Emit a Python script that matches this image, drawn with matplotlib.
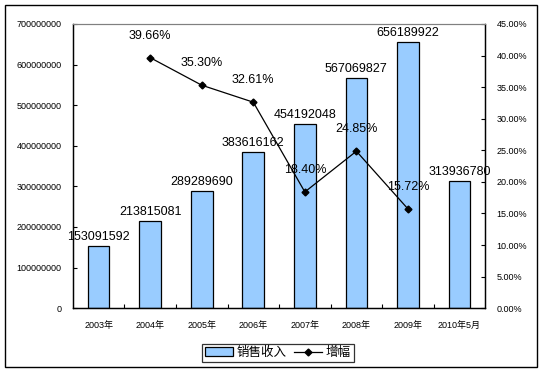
import matplotlib
matplotlib.use("Agg")
import matplotlib.pyplot as plt
from matplotlib.patches import Rectangle
from matplotlib.lines import Line2D
from matplotlib.ticker import FuncFormatter

plt.rcParams['font.family'] = ['Liberation Sans', 'Noto Sans CJK SC']

# 数据
years = ['2003年', '2004年', '2005年', '2006年', '2007年', '2008年', '2009年', '2010年5月']
sales = [153091592, 213815081, 289289690, 383616162, 454192048, 567069827, 656189922, 313936780]
growth_idx = [1, 2, 3, 4, 5, 6]
growth = [39.66, 35.30, 32.61, 18.40, 24.85, 15.72]

fig = plt.figure(figsize=(5.44, 3.74), dpi=100)
ax = fig.add_axes([0.134, 0.176, 0.758, 0.76])

x = list(range(len(years)))
ax.bar(x, sales, width=0.42, color='#99CCFF', edgecolor='black', linewidth=0.9, zorder=2)
ax.set_xlim(-0.5, len(years) - 0.5)
ax.set_ylim(0, 700000000)
ax.set_yticks(range(0, 700000001, 100000000))
ax.yaxis.set_major_formatter(FuncFormatter(lambda v, p: '%d' % v))
ax.set_xticks([i + 0.5 for i in x[:-1]], minor=False)
ax.set_xticklabels([])
ax.set_xticks(x, minor=True)
ax.set_xticklabels(years, minor=True)
ax.tick_params(axis='x', which='minor', length=0, pad=9, labelsize=6.5)
ax.tick_params(axis='x', which='major', direction='in', length=3)
ax.tick_params(axis='y', direction='in', length=3, labelsize=6.5, pad=8)

for i, v in zip(x, sales):
    ax.annotate(str(v), (i, v), xytext=(0, 3), textcoords='offset pixels',
                ha='center', va='bottom', fontsize=9, zorder=5)

ax2 = ax.twinx()
ax2.plot(growth_idx, growth, color='black', linewidth=0.9, marker='D', markersize=3.5, zorder=4)
ax2.set_ylim(0, 45)
ax2.set_yticks(range(0, 46, 5))
ax2.yaxis.set_major_formatter(FuncFormatter(lambda v, p: '%.2f%%' % v))
ax2.tick_params(axis='y', direction='in', length=3, labelsize=6.5, pad=8)
for i, g in zip(growth_idx, growth):
    ax2.annotate('%.2f%%' % g, (i, g), xytext=(0, 22), textcoords='offset pixels',
                 ha='center', va='center', fontsize=9)

for a in (ax, ax2):
    a.spines['top'].set_color('#808080')
    a.spines['left'].set_linewidth(0.9)
    a.spines['right'].set_linewidth(0.9)
    a.spines['bottom'].set_linewidth(0.9)

handles = [Rectangle((0, 0), 1, 1, facecolor='#99CCFF', edgecolor='black', linewidth=0.9),
           Line2D([], [], color='black', linewidth=0.9, marker='D', markersize=3.5)]
leg = fig.legend(handles, ['销售收入', '增幅'], loc='center', bbox_to_anchor=(0.511, 0.056),
                 ncol=2, fontsize=9, frameon=True, fancybox=False, edgecolor='black',
                 handlelength=2.2, handletextpad=0.3, columnspacing=0.6, borderpad=0.25)
leg.get_frame().set_linewidth(0.9)

# 外框
fig.patches.append(Rectangle((5 / 544, 7 / 374), 532 / 544, 362 / 374, transform=fig.transFigure,
                             fill=False, edgecolor='black', linewidth=1.0))

fig.savefig('out.png', dpi=100)
